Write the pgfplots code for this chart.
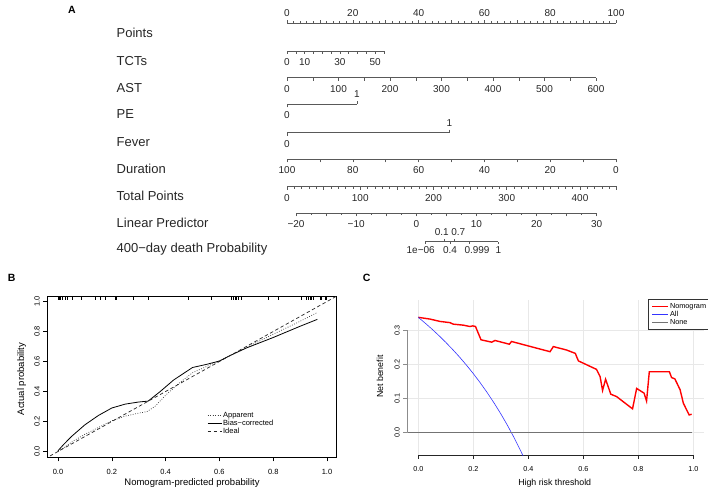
\documentclass[border=0pt]{standalone}
\usepackage{fontspec}
\setmainfont{Liberation Sans}
\usepackage{pgfplots}
\pgfplotsset{compat=1.18}
\newcommand{\fs}[1]{\fontsize{#1}{#1}\selectfont}
\pgfplotsset{
 nomo/.style={scale only axis, height=1pt, ymin=0, ymax=1, hide y axis,
   x axis line style={-, black!65, line width=0.6pt},
   every tick/.style={black!65, line width=0.5pt},
   tick align=outside, major tick length=3pt, minor tick length=1.8pt,
   xticklabel style={font=\fs{10}, text=black!85, inner sep=1pt},
   clip=false},
 nomob/.style={nomo, axis x line*=bottom, anchor=south west, xticklabel style={yshift=-3.5pt}},
 nomot/.style={nomo, axis x line*=top, anchor=north west, xticklabel style={yshift=2.5pt}},
 numfmt/.style={/pgf/number format/fixed, /pgf/number format/fixed zerofill,
   /pgf/number format/precision=1, /pgf/number format/assume math mode=true},
}
\begin{document}
\begin{tikzpicture}
\path[use as bounding box] (0,0) rectangle (708pt,491pt);
% ---------------- Panel A: nomogram ----------------
\node[font=\bfseries\fs{10.5}] at (72pt,481pt) {A};
\foreach \lab/\yy in {Points/453.1, TCTs/425.4, AST/398.7, PE/372.1, Fever/344.1, Duration/317.1, Total Points/290.4, Linear Predictor/263.7, 400−day death Probability/238.7}
  \node[anchor=base west, inner sep=0pt, font=\fs{13}, text=black!85] at (116.5pt,\yy pt) {\lab};
% Points
\begin{axis}[nomot, at={(287pt,467.7pt)}, width=329pt, xmin=0, xmax=100,
  xtick={0,10,...,100}, xticklabels={0,,20,,40,,60,,80,,100}, minor x tick num=4]
\addplot[draw=none] coordinates {(0,0)};
\end{axis}
% TCTs
\begin{axis}[nomob, at={(287pt,440pt)}, width=97pt, xmin=0, xmax=55,
  xtick={0,5,...,55}, xticklabels={0,,10,,,,30,,,,50,}]
\addplot[draw=none] coordinates {(0,0)};
\end{axis}
% AST
\begin{axis}[nomob, at={(287pt,413.3pt)}, width=309pt, xmin=0, xmax=600,
  xtick={0,50,...,600}, xticklabels={0,,100,,200,,300,,400,,500,,600}]
\addplot[draw=none] coordinates {(0,0)};
\end{axis}
% PE
\begin{axis}[nomob, at={(287pt,386.7pt)}, width=70pt, xmin=0, xmax=1, xtick={0}, xticklabels={0}]
\addplot[draw=none] coordinates {(0,0)};
\end{axis}
\begin{axis}[nomot, at={(287pt,386.7pt)}, width=70pt, xmin=0, xmax=1, xtick={1}, xticklabels={1}]
\addplot[draw=none] coordinates {(0,0)};
\end{axis}
% Fever
\begin{axis}[nomob, at={(287pt,358.3pt)}, width=162.3pt, xmin=0, xmax=1, xtick={0}, xticklabels={0}]
\addplot[draw=none] coordinates {(0,0)};
\end{axis}
\begin{axis}[nomot, at={(287pt,358.3pt)}, width=162.3pt, xmin=0, xmax=1, xtick={1}, xticklabels={1}]
\addplot[draw=none] coordinates {(0,0)};
\end{axis}
% Duration
\begin{axis}[nomob, at={(287pt,331.7pt)}, width=329pt, xmin=0, xmax=100, x dir=reverse,
  xtick={0,10,...,100}, xticklabels={0,,20,,40,,60,,80,,100}]
\addplot[draw=none] coordinates {(0,0)};
\end{axis}
% Total Points
\begin{axis}[nomob, at={(287pt,304.3pt)}, width=329.6pt, xmin=0, xmax=450,
  xtick={0,50,...,450}, xticklabels={0,,100,,200,,300,,400,}, minor x tick num=4]
\addplot[draw=none] coordinates {(0,0)};
\end{axis}
% Linear Predictor
\begin{axis}[nomob, at={(296pt,277.7pt)}, width=300.7pt, xmin=-20, xmax=30,
  xtick={-20,-15,...,30}, xticklabels={−20,,−10,,0,,10,,20,,30}, minor x tick num=1]
\addplot[draw=none] coordinates {(0,0)};
\end{axis}
% 400-day death probability: tick marks
\begin{axis}[nomob, at={(425pt,249.5pt)}, width=73.3pt, xmin=0, xmax=73.3,
  major tick length=2.5pt, xtick={0,25,44,73.3}, xticklabels={}]
\addplot[draw=none] coordinates {(0,0)};
\end{axis}
\begin{axis}[nomot, at={(425pt,249.5pt)}, width=73.3pt, xmin=0, xmax=73.3,
  major tick length=2.5pt, xtick={19.3,29.3}, xticklabels={}, x axis line style={draw=none}]
\addplot[draw=none] coordinates {(0,0)};
\end{axis}
% 400-day death probability: labels (shifted apart as in the nomogram)
\begin{axis}[nomob, at={(415pt,249.5pt)}, width=83.3pt, xmin=-10, xmax=73.3,
  x axis line style={draw=none}, every tick/.style={draw=none},
  xticklabel style={yshift=2.3pt},
  xtick={-4.3,25,52,73.3}, xticklabels={1e−06,0.4,0.999,1}]
\addplot[draw=none] coordinates {(0,0)};
\end{axis}
\begin{axis}[nomot, at={(425pt,249.5pt)}, width=73.3pt, xmin=0, xmax=73.3,
  x axis line style={draw=none}, every tick/.style={draw=none},
  xticklabel style={yshift=-0.8pt},
  xtick={16.7,33.3}, xticklabels={0.1,0.7}]
\addplot[draw=none] coordinates {(0,0)};
\end{axis}
% ---------------- Panel B: calibration ----------------
\node[font=\bfseries\fs{10.5}] at (11.7pt,212.7pt) {B};
\begin{axis}[at={(47.3pt,33.7pt)}, anchor=south west, scale only axis,
  width=289.4pt, height=160.6pt,
  xmin=-0.0398, xmax=1.036, ymin=-0.0387, ymax=1.032,
  axis line style={black, line width=0.6pt},
  xtick={0,0.2,0.4,0.6,0.8,1}, ytick={0,0.2,0.4,0.6,0.8,1},
  xtick pos=bottom, ytick pos=left, tick align=outside, major tick length=4pt,
  tick style={black, line width=0.5pt},
  ticklabel style={font=\fs{7.5}, numfmt},
  xticklabel style={yshift=-4.5pt},
  yticklabel style={rotate=90, anchor=south},
  legend style={at={(axis cs:0.555,0.27)}, anchor=north west, draw=none, fill=none,
    font=\fs{7.5}, inner sep=0pt, row sep=-0.5pt, nodes={inner sep=0.8pt}},
  legend cell align=left,
  legend image code/.code={\draw[#1] (0pt,0pt) -- (11.7pt,0pt); \path (0pt,0pt) -- (14pt,0pt);},
]
\addplot[black!75, line width=0.7pt, dash pattern=on 0.8pt off 1.6pt] coordinates {
(0,0) (0.03,0.036) (0.057,0.07) (0.1,0.115) (0.15,0.16) (0.2,0.205) (0.25,0.236)
(0.3,0.256) (0.33,0.265) (0.36,0.3) (0.4,0.375) (0.45,0.455) (0.5,0.525)
(0.55,0.565) (0.6,0.605) (0.65,0.648) (0.7,0.693) (0.8,0.782) (0.9,0.868) (0.962,0.925)};
\addlegendentry{Apparent}
\addplot[black, line width=0.8pt] coordinates {
(0,0.005) (0.02,0.045) (0.05,0.1) (0.1,0.178) (0.15,0.24) (0.2,0.29) (0.25,0.316)
(0.3,0.33) (0.335,0.336) (0.38,0.4) (0.43,0.477) (0.5,0.56) (0.55,0.58) (0.6,0.603)
(0.64,0.64) (0.7,0.69) (0.8,0.76) (0.9,0.835) (0.964,0.881)};
\addlegendentry{Bias−corrected}
\addplot[black!85, line width=0.7pt, dash pattern=on 3.5pt off 2.5pt] coordinates {(-0.03,-0.03) (1.04,1.04)};
\addlegendentry{Ideal}
\addplot[forget plot, only marks, mark=|, mark size=1.7pt, black, mark options={line width=0.6pt}] coordinates {
(0,1.021) (0.002,1.021) (0.004,1.021) (0.006,1.021) (0.008,1.021)
(0.017,1.021) (0.026,1.021) (0.036,1.021) (0.054,1.021) (0.088,1.021) (0.138,1.021)
(0.156,1.021) (0.175,1.021) (0.212,1.021) (0.218,1.021) (0.28,1.021) (0.336,1.021)
(0.484,1.021) (0.571,1.021) (0.646,1.021) (0.652,1.021) (0.658,1.021) (0.664,1.021)
(0.67,1.021) (0.683,1.021) (0.782,1.021) (0.819,1.021) (0.906,1.021) (0.924,1.021)
(0.93,1.021) (0.937,1.021) (0.943,1.021) (0.949,1.021) (0.974,1.021) (0.98,1.021)
(0.993,1.021) (0.999,1.021)};
\end{axis}
\node[font=\fs{9.5}] at (192pt,7.7pt) {Nomogram-predicted probability};
\node[font=\fs{9.5}, rotate=90] at (21.7pt,112pt) {Actual probability};
% ---------------- Panel C: decision curve ----------------
\node[font=\bfseries\fs{10.5}] at (366.7pt,212.7pt) {C};
\begin{axis}[at={(407.3pt,36pt)}, anchor=south west, scale only axis,
  width=297pt, height=155pt,
  xmin=-0.04, xmax=1.04, ymin=-0.0668, ymax=0.389,
  axis x line*=bottom, axis y line*=left,
  x axis line style={-, black!85, line width=0.8pt, shorten <=11pt, shorten >=11pt},
  y axis line style={-, black!45, line width=0.8pt, shorten <=22.7pt, shorten >=30.3pt},
  xtick={0,0.2,0.4,0.6,0.8,1}, ytick={0,0.1,0.2,0.3},
  tick align=outside, major tick length=4pt,
  x tick style={black!85, line width=0.6pt}, y tick style={black!45, line width=0.6pt},
  grid=major, grid style={black!9, line width=0.5pt},
  ticklabel style={font=\fs{7.2}, numfmt},
  xticklabel style={yshift=-4pt},
  yticklabel style={rotate=90, anchor=south},
  legend style={at={(axis cs:0.836,0.391)}, anchor=north west, draw=black!80, line width=0.8pt,
    fill=white, font=\fs{7.3}, inner xsep=3pt, inner ysep=2.5pt, row sep=-0.6pt, nodes={inner sep=1pt}},
  legend cell align=left,
  legend image code/.code={\draw[#1] (0pt,0pt) -- (11.7pt,0pt); \path (0pt,0pt) -- (16pt,0pt);},
]
\addplot[red, line width=1.4pt] coordinates {
(0,0.338) (0.042,0.333) (0.079,0.326) (0.115,0.3225) (0.127,0.318) (0.164,0.315)
(0.188,0.311) (0.198,0.313) (0.208,0.311) (0.228,0.272) (0.267,0.265) (0.279,0.27)
(0.331,0.259) (0.339,0.267) (0.479,0.237) (0.491,0.252) (0.539,0.242) (0.571,0.232)
(0.582,0.21) (0.648,0.185) (0.661,0.164) (0.67,0.123) (0.681,0.156) (0.70,0.112)
(0.721,0.105) (0.779,0.069) (0.794,0.129) (0.821,0.115) (0.83,0.092) (0.84,0.178)
(0.913,0.178) (0.921,0.161) (0.933,0.157) (0.952,0.125) (0.964,0.085) (0.985,0.051) (0.994,0.053)};
\addlegendentry{Nomogram}
\addplot[blue!80, line width=0.6pt] coordinates {
(0,0.338) (0.025,0.321) (0.05,0.3032) (0.075,0.2843) (0.1,0.2644) (0.125,0.2434)
(0.15,0.2212) (0.175,0.1976) (0.2,0.1725) (0.225,0.1458) (0.25,0.1173) (0.275,0.0869)
(0.3,0.0543) (0.325,0.0193) (0.35,-0.0185) (0.375,-0.0592) (0.39,-0.0852)};
\addlegendentry{All}
\addplot[black!55, line width=1.1pt] coordinates {(-0.04,0) (0.995,0)};
\addlegendentry{None}
\end{axis}
\node[font=\fs{8.8}] at (554.7pt,7.7pt) {High risk threshold};
\node[font=\fs{8.8}, rotate=90] at (380pt,114.3pt) {Net benefit};
\end{tikzpicture}
\end{document}
